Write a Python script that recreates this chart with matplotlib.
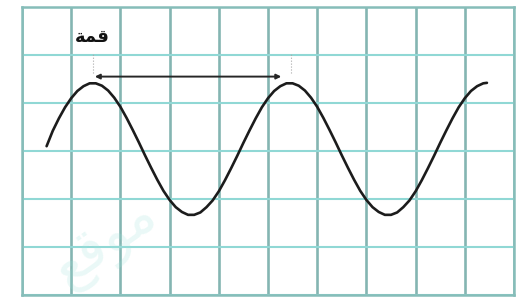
import matplotlib
matplotlib.use('Agg')
import matplotlib.pyplot as plt

# points (grid cells: 10 wide, 6 high)
wave_x = [0.500, 0.625, 0.750, 0.875, 1.000, 1.125, 1.250, 1.375,
          1.500, 1.625, 1.750, 1.875, 2.000, 2.125, 2.250, 2.375,
          2.500, 2.625, 2.750, 2.875, 3.000, 3.125, 3.250, 3.375,
          3.500, 3.625, 3.750, 3.875, 4.000, 4.125, 4.250, 4.375,
          4.500, 4.625, 4.750, 4.875, 5.000, 5.125, 5.250, 5.375,
          5.500, 5.625, 5.750, 5.875, 6.000, 6.125, 6.250, 6.375,
          6.500, 6.625, 6.750, 6.875, 7.000, 7.125, 7.250, 7.375,
          7.500, 7.625, 7.750, 7.875, 8.000, 8.125, 8.250, 8.375,
          8.500, 8.625, 8.750, 8.875, 9.000, 9.125, 9.250, 9.375, 9.450]
wave_y = [3.10, 3.42, 3.68, 3.91, 4.10, 4.25, 4.35, 4.41,
          4.41, 4.36, 4.26, 4.11, 3.92, 3.69, 3.44, 3.18,
          2.91, 2.65, 2.40, 2.17, 1.98, 1.83, 1.73, 1.67,
          1.67, 1.72, 1.83, 1.97, 2.16, 2.39, 2.64, 2.90,
          3.17, 3.43, 3.68, 3.91, 4.10, 4.25, 4.35, 4.41,
          4.41, 4.36, 4.26, 4.11, 3.92, 3.69, 3.44, 3.18,
          2.91, 2.65, 2.40, 2.17, 1.98, 1.83, 1.73, 1.67,
          1.67, 1.72, 1.83, 1.97, 2.16, 2.39, 2.64, 2.90,
          3.17, 3.43, 3.68, 3.91, 4.10, 4.25, 4.35, 4.41, 4.42]

peak_x = [1.45, 5.47]
arrow_y = 4.55
label = 'قمة'
label_shaped = '\uFE94\uFEE4\uFED7'   # قمة in presentation forms, visual order
watermark = '\uFECA\uFED7\uFEEE\uFEE3'  # موقع

fig = plt.figure(figsize=(5.18, 3.0), dpi=100)
ax = fig.add_axes([22 / 518, 5 / 300, 492 / 518, 288 / 300])
ax.set_xlim(0, 10)
ax.set_ylim(0, 6)

ax.set_xticks(range(11))
ax.set_yticks(range(7))
ax.tick_params(length=0, labelbottom=False, labelleft=False)
ax.xaxis.grid(True, color='#84b5b2', lw=1.9)
ax.yaxis.grid(True, color='#90d8d5', lw=1.5)
for s in ax.spines.values():
    s.set_color('#86bdb9')
    s.set_linewidth(1.8)

# faint watermark
ax.text(1.7, 1.1, watermark, fontsize=40, rotation=35, color='#9fe3da',
        alpha=0.22, ha='center', va='center', family='DejaVu Sans')

ax.plot(wave_x, wave_y, color='#1c1c1c', lw=1.9, solid_capstyle='round')

ax.annotate('', xy=(peak_x[0] + 0.03, arrow_y), xytext=(peak_x[1] - 0.2, arrow_y),
            arrowprops=dict(arrowstyle='<|-|>', color='#262626', lw=1.4,
                            mutation_scale=7, shrinkA=0, shrinkB=0))
for px in peak_x:
    ax.plot([px, px], [4.62, 5.05], color='#aaaaaa', lw=0.8, ls=':')

ax.text(peak_x[0] - 0.02, 5.38, label_shaped, fontsize=13, fontweight='bold',
        ha='center', va='center', color='#111111', family='DejaVu Sans')

fig.savefig('out.png', dpi=100)
